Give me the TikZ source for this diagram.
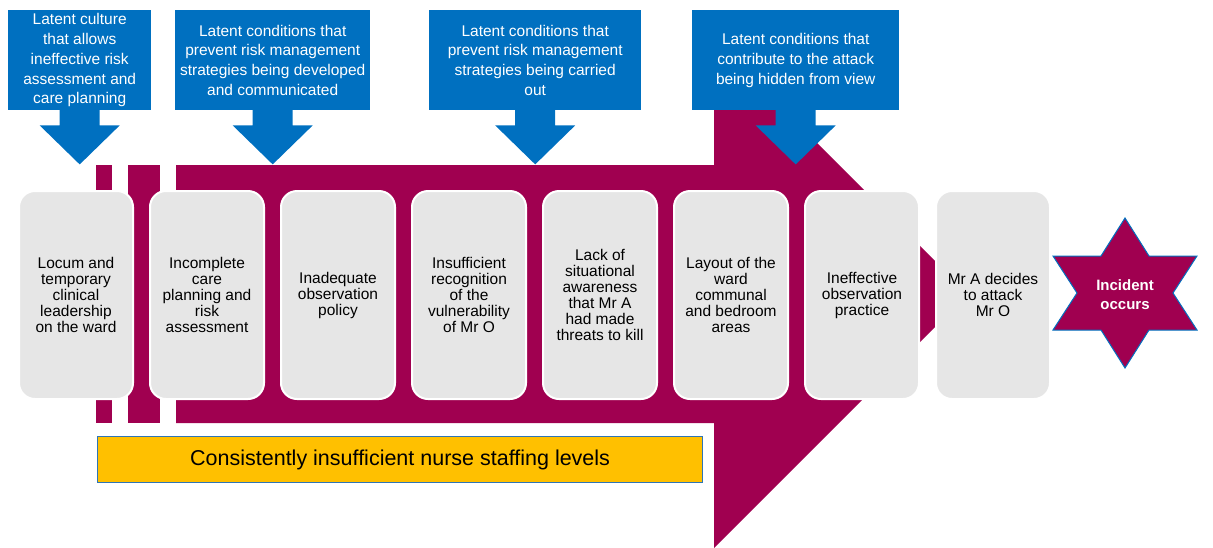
\documentclass[tikz,border=0pt]{standalone}
\usepackage{fontspec}
\setmainfont{Liberation Sans}
\usetikzlibrary{calc}
\definecolor{latentblue}{HTML}{0070C0}
\definecolor{incidentred}{HTML}{A00050}
\definecolor{factorgrey}{HTML}{E6E6E6}
\definecolor{staffyellow}{HTML}{FFC000}
\definecolor{staffedge}{HTML}{2E75B6}
\tikzset{
  factor/.style={draw=white, line width=2pt, fill=factorgrey, rounded corners=16pt,
    minimum width=114pt, minimum height=208pt, inner sep=0pt, anchor=north west,
    align=center, font=\fontsize{15.5}{16}\selectfont},
  latent/.style={fill=latentblue, text=white, minimum height=100pt, inner sep=0pt,
    anchor=north west, align=center, font=\fontsize{15.5}{19.8}\selectfont},
}
\def\fillarrow{\fill[incidentred]}
% blue down arrow hanging under a latent box
\def\latentarrow#1{\fill[latentblue] ($ (#1.south) + (-20,-1) $) -- ++(0,16) -- ++(-20,0)
  -- ($ (#1.south) + (0,54) $) -- ($ (#1.south) + (40,15) $) -- ++(-20,0) -- ++(0,-16) -- cycle;}

\begin{document}
\begin{tikzpicture}[x=1pt,y=-1pt]
\useasboundingbox (0,0) rectangle (1213,547);

% ---------- the big arrow behind the factors
\coordinate (body_top) at (176,165);
\coordinate (body_bottom) at (176,423);
\coordinate (tip) at (968,294); % point of the arrow, hidden behind the last boxes
\fillarrow (96,165) rectangle (112,423);
\fillarrow (128,165) rectangle (160,423);
\fillarrow (body_top) -- (714,165) -- (714,40) -- (tip) -- (714,548) -- (714,423) -- (body_bottom) -- cycle;

% ---------- latent conditions along the top
\node[latent, minimum width=143pt] (culture) at (8,10)
  {Latent culture\\that allows\\ineffective risk\\assessment and\\care planning};
\node[latent, minimum width=195pt] (developed) at (175,10)
  {Latent conditions that\\prevent risk management\\strategies being developed\\and communicated};
\node[latent, minimum width=212pt] (carried) at (429,10)
  {Latent conditions that\\prevent risk management\\strategies being carried\\out};
\node[latent, minimum width=207pt] (hidden) at (692,10)
  {Latent conditions that\\contribute to the attack\\being hidden from view};
\latentarrow{culture}
\latentarrow{developed}
\latentarrow{carried}
\latentarrow{hidden}

% ---------- the chain of factors
\coordinate (row) at (18,190); % top left of the first factor
\node[factor] (locum) at (row) {Locum and\\temporary\\clinical\\leadership\\on the ward};
\node[factor] (careplan) at ($ (row) + (131,0) $) {Incomplete\\care\\planning and\\risk\\assessment};
\node[factor] (obspolicy) at ($ (row) + (262,0) $) {Inadequate\\observation\\policy};
\node[factor] (vulnerable) at ($ (row) + (393,0) $) {Insufficient\\recognition\\of the\\vulnerability\\of Mr O};
\node[factor] (awareness) at ($ (row) + (524,0) $) {Lack of\\situational\\awareness\\that Mr A\\had made\\threats to kill};
\node[factor] (layout) at ($ (row) + (655,0) $) {Layout of the\\ward\\communal\\and bedroom\\areas};
\node[factor] (obspractice) at ($ (row) + (786,0) $) {Ineffective\\observation\\practice};
\node[factor] (decides) at ($ (row) + (917,0) $) {Mr A decides\\to attack\\Mr O};

% ---------- the incident star
\coordinate (inc) at (1125,293);
\fill[incidentred, draw=latentblue, line width=1pt] ($ (inc) + (0,-75) $) -- ($ (inc) + (24,-37) $)
  -- ($ (inc) + (72,-37) $) -- ($ (inc) + (48,0) $) -- ($ (inc) + (72,37) $) -- ($ (inc) + (24,37) $)
  -- ($ (inc) + (0,75) $) -- ($ (inc) + (-24,37) $) -- ($ (inc) + (-72,37) $) -- ($ (inc) + (-48,0) $)
  -- ($ (inc) + (-72,-37) $) -- ($ (inc) + (-24,-37) $) -- cycle;
\node[text=white, align=center, font=\fontsize{15}{19}\selectfont\bfseries] (incident)
  at ($ (inc) + (0,2) $) {Incident\\occurs};

% ---------- staffing bar
\node[fill=staffyellow, draw=staffedge, line width=1.2pt, anchor=north west, minimum width=605pt,
  minimum height=46pt, inner sep=0pt, font=\fontsize{21.5}{24}\selectfont] (staffing) at (97,436)
  {Consistently insufficient nurse staffing levels};
\end{tikzpicture}
\end{document}
